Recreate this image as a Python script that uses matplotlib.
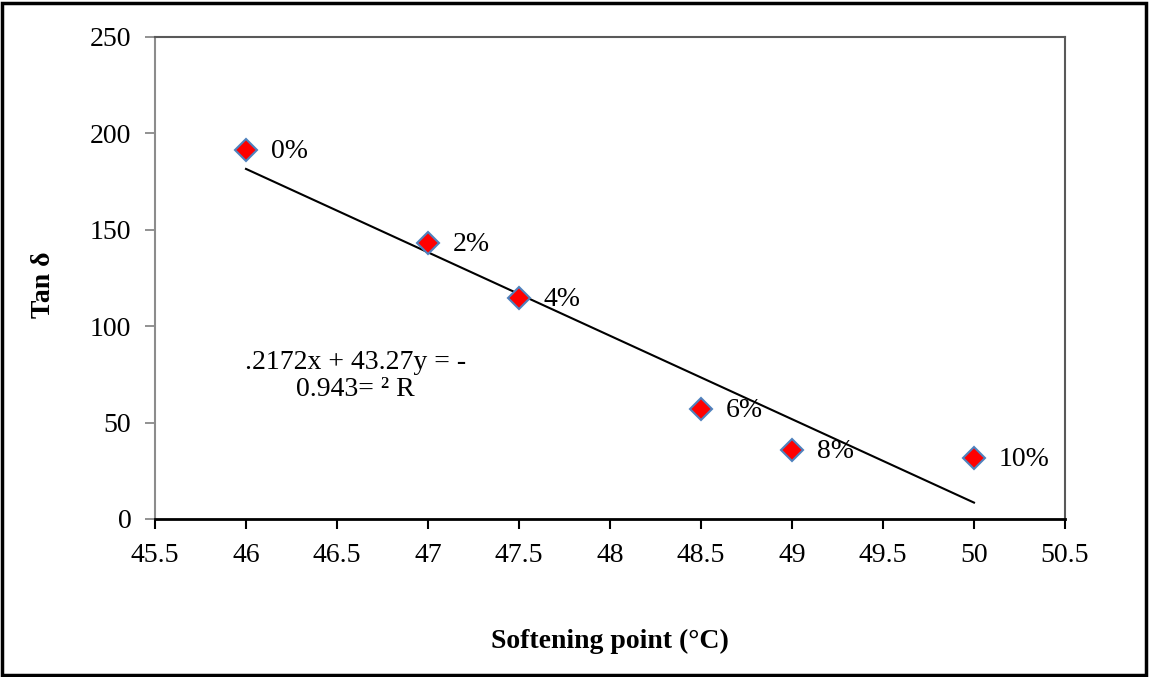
import numpy as np
import matplotlib.pyplot as plt
from matplotlib.patches import Rectangle

plt.rcParams['font.family'] = ['Liberation Serif', 'DejaVu Serif']

softening = [46, 47, 47.5, 48.5, 49, 50]
tan_delta = [191.2, 143.3, 114.6, 57.2, 35.6, 31.8]
labels = ["0%", "2%", "4%", "6%", "8%", "10%"]

# linear trend fitted in the spreadsheet: y = -43.27x + 2172
slope = -43.27
intercept = 2172
eq_text = ".2172x + 43.27y = -\n0.943= ² R"

fs = 20
fig = plt.figure(figsize=(11.5, 6.77), dpi=100)
ax = fig.add_axes([155 / 1150, 1 - 519 / 677, 910 / 1150, 482 / 677])

x_fit = np.array([softening[0], softening[-1]])
ax.plot(x_fit, slope * x_fit + intercept, color="black", lw=1.5, zorder=2)
ax.plot(softening, tan_delta, linestyle="none", marker="D", markersize=11,
        markerfacecolor="#ff0000", markeredgecolor="#4f81bd", markeredgewidth=1.5, zorder=3)

for x, y, lab in zip(softening, tan_delta, labels):
    ax.annotate(lab, (x, y), xytext=(18, -1), textcoords="offset points",
                va="center", ha="left", fontsize=fs)

ax.text(46.6, 87.5, eq_text, ha="center", va="top", fontsize=fs, linespacing=1.1)

ax.set_xlim(45.5, 50.5)
ax.set_ylim(0, 250)
ax.set_xticks(np.arange(45.5, 50.51, 0.5))
ax.set_xticklabels(["45.5", "46", "46.5", "47", "47.5", "48", "48.5", "49", "49.5", "50", "50.5"])
ax.set_yticks(np.arange(0, 251, 50))
ax.tick_params(axis="both", labelsize=fs, direction="out", length=7)
ax.tick_params(axis="x", width=1.5, color="black", pad=10)
ax.tick_params(axis="y", width=1.2, color="#7f7f7f", pad=10)

for side in ["left", "top", "right"]:
    ax.spines[side].set_color("#595959")
    ax.spines[side].set_linewidth(1.5)
ax.spines["left"].set_color("#8c8c8c")
ax.spines["bottom"].set_color("black")
ax.spines["bottom"].set_linewidth(2)

ax.set_xlabel("Softening point (°C)", fontsize=fs, fontweight="bold")
ax.set_ylabel("Tan δ", fontsize=fs, fontweight="bold")
ax.xaxis.set_label_coords(0.5, -110 / 482)
ax.yaxis.set_label_coords(-99 / 910, 0.485)

fig.patches.append(Rectangle((2 / 1150, 2 / 677), 1144 / 1150, 672 / 677,
                             transform=fig.transFigure, fill=False,
                             edgecolor="black", lw=2.5))

fig.savefig("out.png", dpi=100)
